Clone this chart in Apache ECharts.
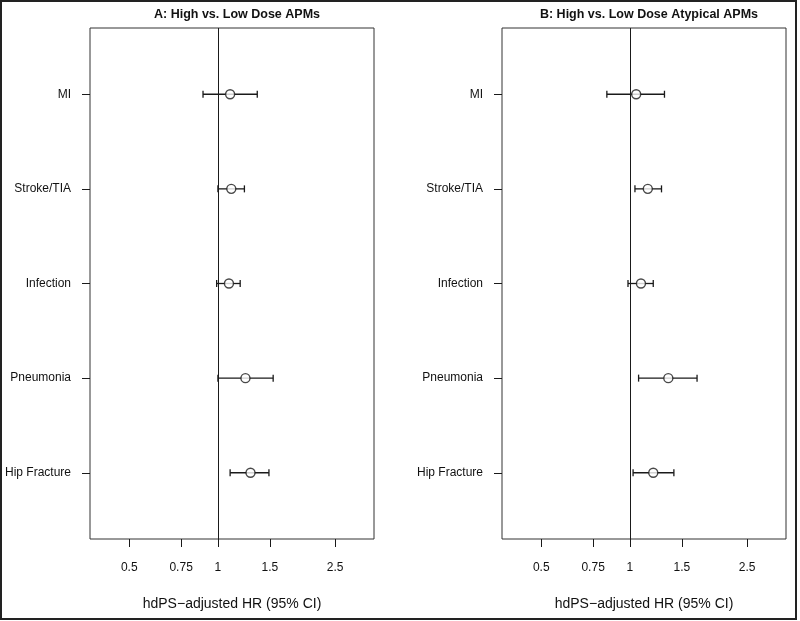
<!DOCTYPE html>
<html>
<head>
<meta charset="utf-8">
<script src="https://cdn.jsdelivr.net/npm/echarts@6/dist/echarts.min.js"></script>
<style>html,body{margin:0;padding:0;background:#fff}#c{width:800px;height:621px}</style>
</head>
<body>
<div id="c"></div>
<script>
// ---- data ----
const categories = ['MI', 'Stroke/TIA', 'Infection', 'Pneumonia', 'Hip Fracture'];
const panelTitles = ['A: High vs. Low Dose APMs', 'B: High vs. Low Dose Atypical APMs'];
const xTickValues = [0.5, 0.75, 1, 1.5, 2.5];
const xAxisTitle = 'hdPS\u2212adjusted HR (95% CI)';

const hrA    = [1.10, 1.11, 1.09, 1.24, 1.29];
const lowerA = [0.89, 1.00, 0.99, 1.00, 1.10];
const upperA = [1.36, 1.23, 1.19, 1.54, 1.49];

const hrB    = [1.05, 1.15, 1.09, 1.35, 1.20];
const lowerB = [0.835, 1.04, 0.985, 1.07, 1.025];
const upperB = [1.31, 1.28, 1.20, 1.69, 1.41];

// ---- build ----
const ln = Math.log;
const ink = '#1a1a1a';
const font = 'Liberation Sans, Arial, sans-serif';
const grids = [
  {left: 90, top: 28, width: 284, height: 511},
  {left: 502, top: 28, width: 284, height: 511}
];
const yPos = categories.map((c, i) => i + 1);

function fmtTick(v) {
  return String(Math.round(Math.exp(v) * 100) / 100);
}

const xAxes = grids.map((g, i) => ({
  type: 'value', gridIndex: i, min: -1.0, max: 1.22, position: 'bottom',
  axisLine: {show: false, onZero: false},
  splitLine: {show: false},
  axisTick: {show: true, length: 8, lineStyle: {color: ink, width: 1},
             customValues: xTickValues.map(ln)},
  axisLabel: {customValues: xTickValues.map(ln), formatter: fmtTick, margin: 23,
              fontFamily: font, fontSize: 12, color: '#111'},
  name: xAxisTitle, nameLocation: 'middle', nameGap: 58,
  nameTextStyle: {fontFamily: font, fontSize: 14, color: '#111'}
}));

const yAxes = grids.map((g, i) => ({
  type: 'value', gridIndex: i, min: 0.3, max: 5.7, inverse: true, position: 'left',
  axisLine: {show: false, onZero: false},
  splitLine: {show: false},
  axisTick: {show: true, length: 8, lineStyle: {color: ink, width: 1}, customValues: yPos},
  axisLabel: {customValues: yPos, margin: 19,
              formatter: v => categories[Math.round(v) - 1] || '',
              fontFamily: font, fontSize: 12, color: '#111'}
}));

function makeSeries(idx, hr, lo, hi) {
  const barData = categories.map((c, i) => [ln(lo[i]), ln(hi[i]), yPos[i]]);
  const ptData = categories.map((c, i) => [ln(hr[i]), yPos[i]]);
  return [
    {
      type: 'custom', xAxisIndex: idx, yAxisIndex: idx, z: 3,
      data: barData,
      encode: {x: [0, 1], y: 2},
      renderItem: function (params, api) {
        const a = api.coord([api.value(0), api.value(2)]);
        const b = api.coord([api.value(1), api.value(2)]);
        const h = 3.5;
        const st = {stroke: ink, lineWidth: 1.3};
        return {
          type: 'group',
          children: [
            {type: 'line', shape: {x1: a[0], y1: a[1], x2: b[0], y2: b[1]}, style: st},
            {type: 'line', shape: {x1: a[0], y1: a[1] - h, x2: a[0], y2: a[1] + h}, style: st},
            {type: 'line', shape: {x1: b[0], y1: b[1] - h, x2: b[0], y2: b[1] + h}, style: st}
          ]
        };
      },
      markLine: {
        silent: true, symbol: 'none', label: {show: false},
        lineStyle: {color: ink, width: 1, type: 'solid'},
        data: [{xAxis: 0}]
      }
    },
    {
      type: 'scatter', xAxisIndex: idx, yAxisIndex: idx, z: 5,
      data: ptData, symbol: 'circle', symbolSize: 9,
      itemStyle: {color: '#fff', borderColor: ink, borderWidth: 1.4}
    }
  ];
}

const option = {
  backgroundColor: '#fff',
  animation: false,
  title: panelTitles.map((t, i) => ({
    text: t, left: grids[i].left + grids[i].width / 2, textAlign: 'center', top: 3,
    textStyle: {fontFamily: font, fontSize: 12.5, fontWeight: 'bold', color: '#111'}
  })),
  grid: grids.map(g => Object.assign({show: true, borderColor: '#333', borderWidth: 1, backgroundColor: 'transparent'}, g)),
  xAxis: xAxes,
  yAxis: yAxes,
  series: [].concat(makeSeries(0, hrA, lowerA, upperA), makeSeries(1, hrB, lowerB, upperB)),
  graphic: [{
    type: 'rect', silent: true, z: 100,
    shape: {x: 1, y: 1, width: 795, height: 618},
    style: {fill: 'none', stroke: '#222', lineWidth: 2}
  }]
};

const chart = echarts.init(document.getElementById('c'), null, {renderer: 'canvas'});
chart.setOption(option);
</script>
</body>
</html>
